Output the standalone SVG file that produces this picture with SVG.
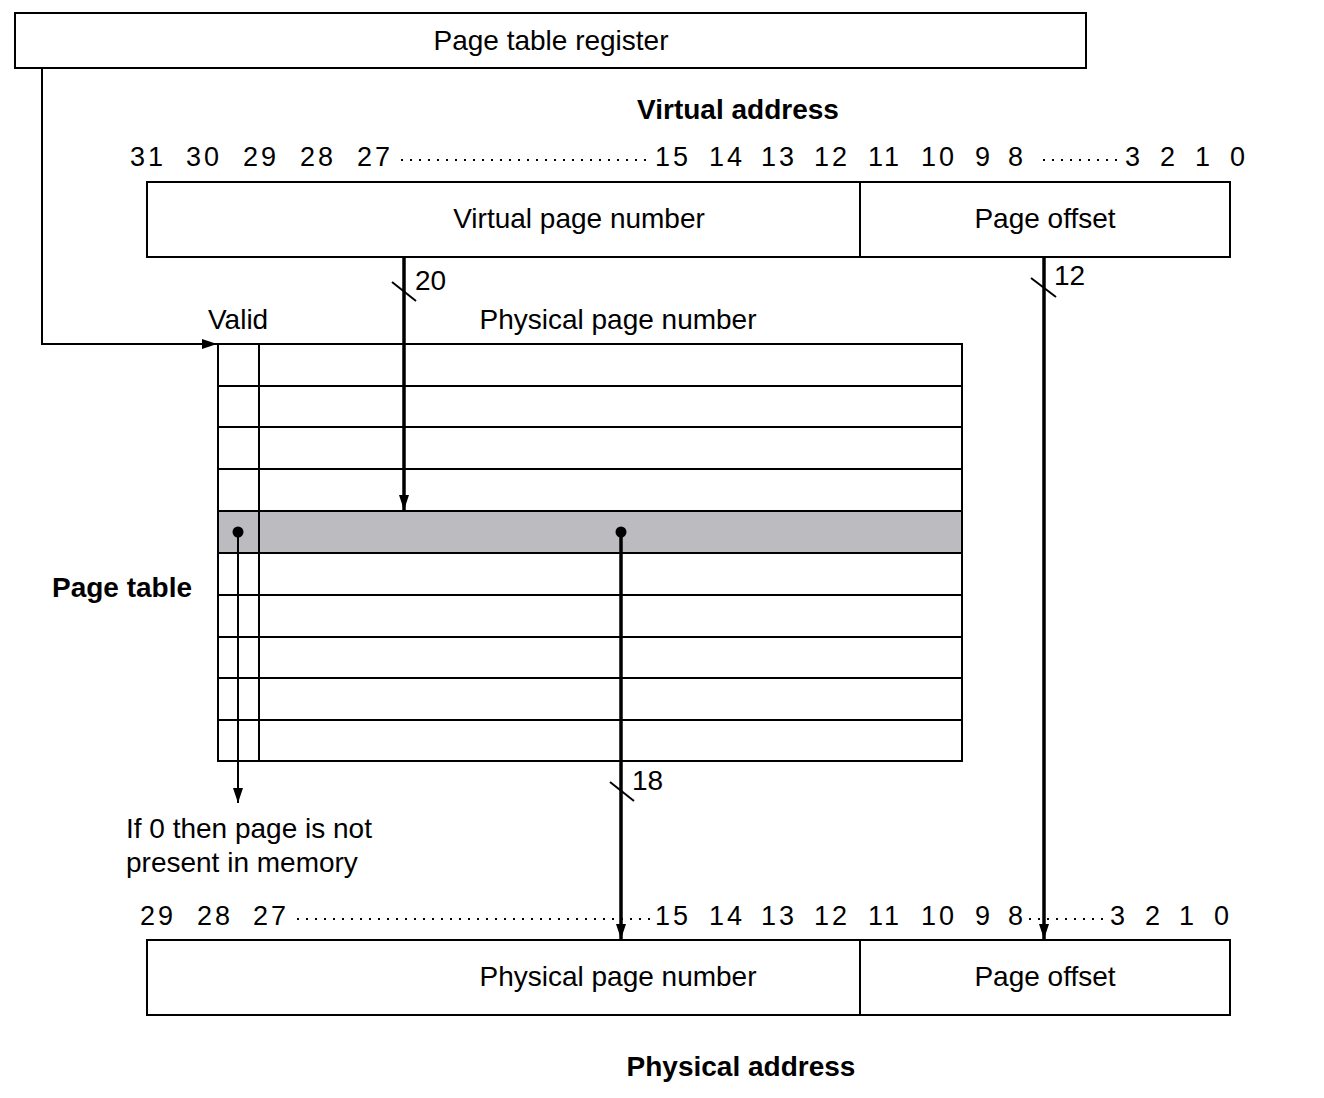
<svg xmlns="http://www.w3.org/2000/svg" width="1324" height="1098" viewBox="0 0 1324 1098">
<style>
text{font-family:"Liberation Sans",Arial,sans-serif;fill:#000;font-size:28px}
.b{font-weight:bold}
.n{font-size:27px;letter-spacing:3px}
.box{fill:#fff;stroke:#000;stroke-width:2}
.thin{fill:none;stroke:#000;stroke-width:2}
.thick{fill:none;stroke:#000;stroke-width:3.5}
.dot{fill:none;stroke:#000;stroke-width:2;stroke-dasharray:2 7}
.grid{stroke:#000;stroke-width:2}
</style>
<defs>
<marker id="ah" markerWidth="16" markerHeight="10" refX="15" refY="5" orient="auto" markerUnits="userSpaceOnUse" viewBox="0 0 16 10">
<path d="M0,0 L15,5 L0,10 Z" fill="#000"/>
</marker>
</defs>
<rect width="1324" height="1098" fill="#fff"/>

<g id="register">
<rect class="box" x="15" y="13" width="1071" height="55"/>
<text x="551" y="50" text-anchor="middle">Page table register</text>
</g>

<g id="virtual-address">
<text class="b" x="738" y="119" text-anchor="middle">Virtual address</text>
<g class="bits">
<text class="n" x="130" y="166">31</text>
<text class="n" x="186" y="166">30</text>
<text class="n" x="243" y="166">29</text>
<text class="n" x="300" y="166">28</text>
<text class="n" x="357" y="166">27</text>
<line class="dot" x1="401" y1="160" x2="652" y2="160"/>
<text class="n" x="655" y="166">15</text>
<text class="n" x="709" y="166">14</text>
<text class="n" x="761" y="166">13</text>
<text class="n" x="814" y="166">12</text>
<text class="n" x="868" y="166">11</text>
<text class="n" x="921" y="166">10</text>
<text class="n" x="975" y="166">9</text>
<text class="n" x="1008" y="166">8</text>
<line class="dot" x1="1043" y1="160" x2="1122" y2="160"/>
<text class="n" x="1125" y="166">3</text>
<text class="n" x="1160" y="166">2</text>
<text class="n" x="1195" y="166">1</text>
<text class="n" x="1230" y="166">0</text>
</g>
<rect class="box" x="147" y="182" width="1083" height="75"/>
<line class="grid" x1="860" y1="182" x2="860" y2="257"/>
<text x="579" y="228" text-anchor="middle">Virtual page number</text>
<text x="1045" y="228" text-anchor="middle">Page offset</text>
</g>

<g id="page-table">
<rect x="218" y="511" width="744" height="42" fill="#bcbcc0"/>
<rect x="218" y="344" width="744" height="417" fill="none" stroke="#000" stroke-width="2"/>
<line class="grid" x1="259" y1="344" x2="259" y2="761"/>
<g class="grid">
<line x1="218" y1="386" x2="962" y2="386"/>
<line x1="218" y1="427" x2="962" y2="427"/>
<line x1="218" y1="469" x2="962" y2="469"/>
<line x1="218" y1="511" x2="962" y2="511"/>
<line x1="218" y1="553" x2="962" y2="553"/>
<line x1="218" y1="595" x2="962" y2="595"/>
<line x1="218" y1="637" x2="962" y2="637"/>
<line x1="218" y1="678" x2="962" y2="678"/>
<line x1="218" y1="720" x2="962" y2="720"/>
</g>
<text x="208" y="329">Valid</text>
<text x="618" y="329" text-anchor="middle">Physical page number</text>
<text class="b" x="52" y="597">Page table</text>
<circle cx="238" cy="532" r="5.5" fill="#000"/>
<circle cx="621" cy="532" r="5.5" fill="#000"/>
</g>

<g id="note">
<text x="126" y="838">If 0 then page is not</text>
<text x="126" y="872">present in memory</text>
</g>

<g id="physical-address">
<g class="bits">
<text class="n" x="140" y="925">29</text>
<text class="n" x="197" y="925">28</text>
<text class="n" x="253" y="925">27</text>
<line class="dot" x1="297" y1="919" x2="652" y2="919"/>
<text class="n" x="655" y="925">15</text>
<text class="n" x="709" y="925">14</text>
<text class="n" x="761" y="925">13</text>
<text class="n" x="814" y="925">12</text>
<text class="n" x="868" y="925">11</text>
<text class="n" x="921" y="925">10</text>
<text class="n" x="975" y="925">9</text>
<text class="n" x="1008" y="925">8</text>
<line class="dot" x1="1029" y1="919" x2="1106" y2="919"/>
<text class="n" x="1110" y="925">3</text>
<text class="n" x="1145" y="925">2</text>
<text class="n" x="1179" y="925">1</text>
<text class="n" x="1214" y="925">0</text>
</g>
<rect class="box" x="147" y="940" width="1083" height="75"/>
<line class="grid" x1="860" y1="940" x2="860" y2="1015"/>
<text x="618" y="986" text-anchor="middle">Physical page number</text>
<text x="1045" y="986" text-anchor="middle">Page offset</text>
<text class="b" x="741" y="1076" text-anchor="middle">Physical address</text>
</g>

<g id="connectors">
<polyline class="thin" points="42,68 42,344 217,344" marker-end="url(#ah)"/>
<line class="thick" x1="404" y1="257" x2="404" y2="510" marker-end="url(#ah)"/>
<line class="thin" x1="392" y1="282" x2="416" y2="301"/>
<text x="415" y="290">20</text>
<line class="thick" x1="1044" y1="257" x2="1044" y2="939" marker-end="url(#ah)"/>
<line class="thin" x1="1031" y1="278" x2="1056" y2="297"/>
<text x="1054" y="285">12</text>
<line class="thin" x1="238" y1="532" x2="238" y2="803" marker-end="url(#ah)"/>
<line class="thick" x1="621" y1="532" x2="621" y2="939" marker-end="url(#ah)"/>
<line class="thin" x1="610" y1="782" x2="634" y2="801"/>
<text x="632" y="790">18</text>
</g>
</svg>
